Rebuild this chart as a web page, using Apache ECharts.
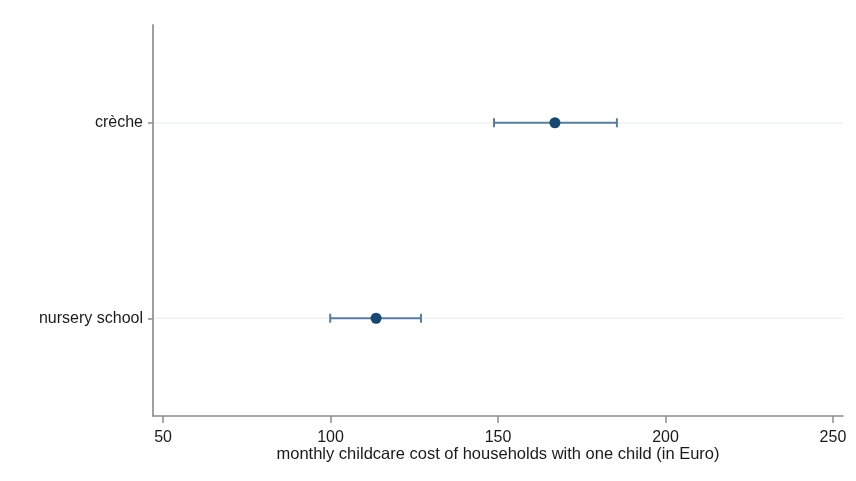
<!DOCTYPE html>
<html><head><meta charset="utf-8">
<script src="https://cdn.jsdelivr.net/npm/echarts@6/dist/echarts.min.js"></script>
<style>html,body{margin:0;padding:0;background:#fff}#c{width:856px;height:481px}</style>
</head><body><div id="c"></div>
<script>
var categories = ['nursery school', 'crèche'];
var means = [113.6, 167.0];
var lower = [99.9, 148.8];
var upper = [127.0, 185.5];
var xTicks = [50, 100, 150, 200, 250];
var xTitle = 'monthly childcare cost of households with one child (in Euro)';

var chart = echarts.init(document.getElementById('c'));
var ciData = categories.map(function (c, i) { return [i, lower[i], upper[i]]; });
var ptData = categories.map(function (c, i) { return [means[i], c]; });
var FONT = 'Liberation Sans, Arial';

chart.setOption({
  animation: false,
  grid: { left: 153, right: 13, top: 25, bottom: 65 },
  xAxis: {
    type: 'value', min: 47, max: 253, interval: 50,
    axisLine: { show: true, lineStyle: { color: '#8c8c8c', width: 1.5 } },
    axisTick: { show: true, length: 7, lineStyle: { color: '#8c8c8c', width: 1.5 },
      customValues: xTicks },
    axisLabel: { customValues: xTicks, color: '#1a1a1a', fontSize: 16, fontFamily: FONT, margin: 14 },
    splitLine: { show: false },
    name: xTitle, nameLocation: 'middle', nameGap: 30, nameMoveOverlap: false,
    nameTextStyle: { color: '#1a1a1a', fontSize: 16.5, fontFamily: FONT }
  },
  yAxis: {
    type: 'category', data: categories, boundaryGap: true,
    axisLine: { show: true, lineStyle: { color: '#a0a0a0', width: 2 } },
    axisTick: { show: true, alignWithLabel: true, length: 5, lineStyle: { color: '#8c8c8c', width: 1.5 } },
    axisLabel: { color: '#1a1a1a', fontSize: 16, fontFamily: FONT, margin: 10 },
    splitLine: { show: false }
  },
  series: [
    {
      type: 'custom',
      data: ciData,
      z: 2,
      renderItem: function (params, api) {
        var cat = api.value(0);
        var lo = api.coord([api.value(1), cat]);
        var hi = api.coord([api.value(2), cat]);
        var gl = api.coord([47, cat]);
        var gr = api.coord([253, cat]);
        var h = 4.5;
        var st = { stroke: '#5a7d9c', lineWidth: 2 };
        return { type: 'group', children: [
          { type: 'line', shape: { x1: gl[0] + 2, y1: gl[1], x2: gr[0], y2: gr[1] }, style: { stroke: '#eef2f2', lineWidth: 1.5 }, z2: 0 },
          { type: 'line', shape: { x1: lo[0], y1: lo[1], x2: hi[0], y2: hi[1] }, style: st, z2: 1 },
          { type: 'line', shape: { x1: lo[0], y1: lo[1] - h, x2: lo[0], y2: lo[1] + h }, style: st, z2: 1 },
          { type: 'line', shape: { x1: hi[0], y1: hi[1] - h, x2: hi[0], y2: hi[1] + h }, style: st, z2: 1 }
        ] };
      }
    },
    {
      type: 'scatter',
      data: ptData,
      symbol: 'circle', symbolSize: 11, z: 3,
      itemStyle: { color: '#1a476f', opacity: 1 }
    }
  ]
});
</script>
</body></html>
